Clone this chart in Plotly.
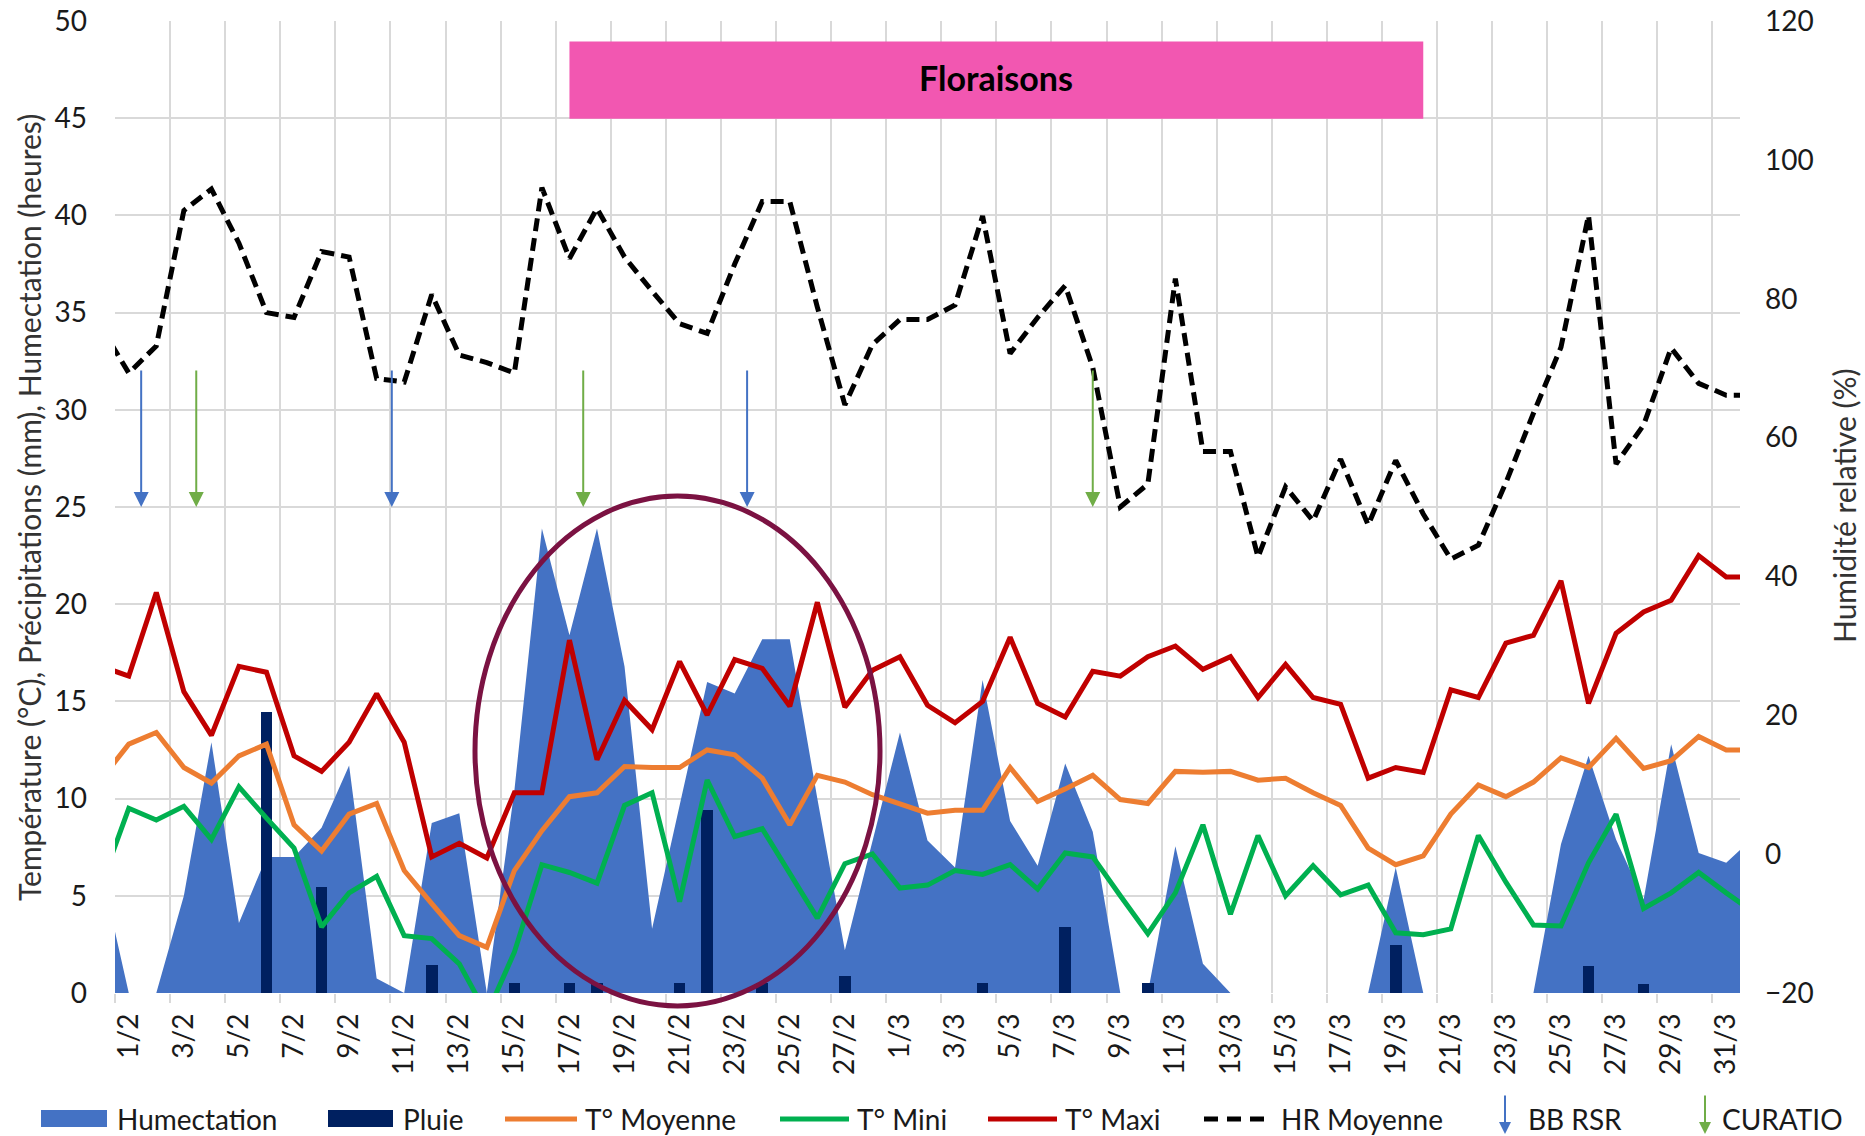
import plotly.graph_objects as go

FONT = "Lato, 'Open Sans', sans-serif"
TEXT = "#1a1a1a"
GRID = "#d9d9d9"

BLUE = "#4472C4"
NAVY = "#002060"
ORANGE = "#ED7D31"
GREEN = "#00B050"
RED = "#C00000"
PINK = "#F257B1"
MAROON = "#7B1242"
ARROW_BLUE = "#4472C4"
ARROW_GREEN = "#70AD47"

# --- data: day index 0 = 31/1 (only its edge is visible), 1 = 1/2 ... 59 = 31/3, 60 = 1/4 ---
DAYS = list(range(61))

TICK_DAYS = [1, 3, 5, 7, 9, 11, 13, 15, 17, 19, 21, 23, 25, 27, 29,
             31, 33, 35, 37, 39, 41, 43, 45, 47, 49, 51, 53, 55, 57, 59]
TICK_TEXT = ["1/2", "3/2", "5/2", "7/2", "9/2", "11/2", "13/2", "15/2", "17/2", "19/2",
             "21/2", "23/2", "25/2", "27/2", "1/3", "3/3", "5/3", "7/3", "9/3", "11/3",
             "13/3", "15/3", "17/3", "19/3", "21/3", "23/3", "25/3", "27/3", "29/3", "31/3"]

HUMECTATION = [6.3, 0, 0, 5.0, 12.9, 3.6, 7.0, 7.0, 8.5, 11.7,
               0.75, 0, 8.75, 9.25, 0, 10.4, 23.9, 18.4, 23.9, 16.8,
               3.3, 9.7, 16.0, 15.4, 18.2, 18.2, 10.0, 2.2, 7.8, 13.4,
               7.85, 6.45, 16.1, 8.85, 6.55, 11.8, 8.3, 0, 0, 7.55,
               1.5, 0, 0, 0, 0, 0, 0, 6.45, 0, 0,
               0, 0, 0, 7.65, 12.2, 7.9, 4.8, 12.8, 7.2, 6.7,
               8.0]

PLUIE_DAYS = [6, 8, 12, 15, 17, 18, 21, 22, 24, 27, 32, 35, 38, 47, 54, 56]
PLUIE_MM = [14.45, 5.45, 1.45, 0.5, 0.5, 0.5, 0.5, 9.4, 0.5, 0.9, 0.5, 3.4, 0.5, 2.45, 1.4, 0.45]

T_MOYENNE = [11.0, 12.8, 13.4, 11.6, 10.8, 12.2, 12.8, 8.65, 7.3, 9.2,
             9.75, 6.3, 4.6, 2.95, 2.35, 6.3, 8.35, 10.1, 10.3, 11.65,
             11.6, 11.6, 12.5, 12.25, 11.05, 8.65, 11.2, 10.85, 10.2, 9.7,
             9.25, 9.4, 9.4, 11.6, 9.85, 10.5, 11.2, 9.95, 9.75, 11.4,
             11.35, 11.4, 10.95, 11.05, 10.3, 9.65, 7.45, 6.6, 7.05, 9.2,
             10.7, 10.1, 10.85, 12.1, 11.6, 13.1, 11.55, 11.95, 13.2, 12.5,
             12.5]

T_MINI = [5.6, 9.5, 8.9, 9.6, 7.9, 10.6, 9.0, 7.45, 3.4, 5.15,
          6.0, 2.95, 2.8, 1.5, -1.1, 2.1, 6.6, 6.2, 5.65, 9.65,
          10.3, 4.7, 10.95, 8.05, 8.45, 6.2, 3.85, 6.65, 7.15, 5.4,
          5.55, 6.3, 6.1, 6.6, 5.35, 7.2, 7.0, 5.0, 3.05, 5.15,
          8.65, 4.05, 8.1, 5.0, 6.55, 5.05, 5.55, 3.1, 3.0, 3.3,
          8.1, 5.7, 3.5, 3.45, 6.7, 9.2, 4.35, 5.15, 6.2, 5.15,
          4.15]

T_MAXI = [16.8, 16.3, 20.6, 15.5, 13.25, 16.8, 16.5, 12.2, 11.4, 12.9,
          15.4, 12.9, 7.0, 7.7, 6.95, 10.3, 10.3, 18.15, 12.0, 15.05,
          13.55, 17.05, 14.3, 17.15, 16.7, 14.75, 20.1, 14.7, 16.6, 17.3,
          14.8, 13.9, 15.0, 18.3, 14.9, 14.2, 16.55, 16.3, 17.3, 17.85,
          16.65, 17.3, 15.2, 16.9, 15.2, 14.85, 11.05, 11.6, 11.35, 15.6,
          15.2, 18.0, 18.4, 21.2, 14.9, 18.5, 19.6, 20.2, 22.5, 21.4,
          21.4]

HR_MOYENNE = [75.9, 69.3, 73.2, 92.7, 95.8, 88.0, 78.0, 77.3, 86.8, 86.0,
              68.5, 68.0, 80.6, 71.9, 70.8, 69.3, 96.0, 85.8, 93.0, 86.0,
              81.1, 76.4, 75.0, 85.0, 94.0, 94.0, 78.8, 64.7, 73.4, 77.0,
              77.0, 79.1, 91.9, 72.1, 77.3, 81.9, 70.1, 50.0, 53.3, 82.9,
              58.0, 58.0, 42.8, 52.9, 48.0, 56.9, 47.4, 56.7, 49.0, 42.5,
              44.5, 53.5, 63.5, 73.0, 92.0, 56.2, 61.8, 72.9, 67.8, 66.1,
              66.1]

# treatments (arrows), in day units
BB_RSR_DAYS = [1.45, 10.55, 23.45]
CURATIO_DAYS = [3.45, 17.5, 36.0]
ARROW_TOP, ARROW_TIP = 32.1, 25.0

FLORAISON_START, FLORAISON_END = 17, 48

# --- plot geometry (pixels) ---
W, H = 1865, 1136
L, R, T, B = 115, 125, 21, 143
PW, PH = W - L - R, H - T - B


def px_x(fx):
    return (fx - L) / PW


def px_y(fy):
    return (H - B - fy) / PH


fig = go.Figure()
# area sits on the base axis so that rain bars and lines (on y3) draw above it
fig.add_trace(go.Scatter(
    x=DAYS, y=HUMECTATION, mode="lines", line=dict(width=0),
    fill="tozeroy", fillcolor=BLUE, name="Humectation"))
fig.add_trace(go.Bar(
    x=PLUIE_DAYS, y=PLUIE_MM, width=0.42, marker=dict(color=NAVY, line_width=0),
    name="Pluie", yaxis="y3"))
for name, vals, color in [("T° Moyenne", T_MOYENNE, ORANGE),
                          ("T° Mini", T_MINI, GREEN),
                          ("T° Maxi", T_MAXI, RED)]:
    fig.add_trace(go.Scatter(x=DAYS, y=vals, mode="lines", name=name, yaxis="y3",
                             line=dict(color=color, width=5)))
fig.add_trace(go.Scatter(
    x=DAYS, y=HR_MOYENNE, mode="lines", name="HR Moyenne", yaxis="y2",
    line=dict(color="black", width=5, dash="13px,7px")))

shapes = []
annotations = []

# Floraisons band
shapes.append(dict(type="rect", xref="x", yref="y", x0=FLORAISON_START, x1=FLORAISON_END,
                   y0=44.97, y1=48.94, fillcolor=PINK, line_width=0, layer="above"))
annotations.append(dict(x=(FLORAISON_START + FLORAISON_END) / 2, y=47.1, xref="x", yref="y",
                        text="<b>Floraisons</b>", showarrow=False,
                        font=dict(size=34, color="black", family=FONT)))

# treatment arrows
for days, color in [(BB_RSR_DAYS, ARROW_BLUE), (CURATIO_DAYS, ARROW_GREEN)]:
    for d in days:
        annotations.append(dict(x=d, y=ARROW_TIP, xref="x", yref="y",
                                ax=d, ay=ARROW_TOP, axref="x", ayref="y", text="",
                                showarrow=True, arrowhead=2, arrowsize=1.5,
                                arrowwidth=2, arrowcolor=color))

# highlight ellipse
shapes.append(dict(type="circle", xref="paper", yref="paper",
                   x0=px_x(475), x1=px_x(880), y0=px_y(1006), y1=px_y(496),
                   line=dict(color=MAROON, width=5), layer="above"))

# axis titles
annotations.append(dict(x=px_x(29), y=px_y(508), xref="paper", yref="paper",
                        xanchor="center", yanchor="middle",
                        text="Température (°C), Précipitations (mm), Humectation (heures)",
                        textangle=-90, showarrow=False,
                        font=dict(size=30, color="#333333", family=FONT)))
annotations.append(dict(x=px_x(1844), y=px_y(506), xref="paper", yref="paper",
                        xanchor="center", yanchor="middle",
                        text="Humidité relative (%)", textangle=-90, showarrow=False,
                        font=dict(size=30, color="#333333", family=FONT)))

# legend, drawn by hand
LEG_Y = 1119
LEG_FONT = dict(size=28, color=TEXT, family=FONT)
legend_items = [
    ("box", BLUE, 41, 107, 115, "Humectation"),
    ("box", NAVY, 328, 393, 401, "Pluie"),
    ("line", ORANGE, 505, 577, 583, "T° Moyenne"),
    ("line", GREEN, 780, 849, 855, "T° Mini"),
    ("line", RED, 988, 1057, 1063, "T° Maxi"),
    ("dash", "black", 1204, 1271, 1279, "HR Moyenne"),
    ("arrow", ARROW_BLUE, 1505, 1505, 1526, "BB RSR"),
    ("arrow", ARROW_GREEN, 1705, 1705, 1720, "CURATIO"),
]
for kind, color, x0, x1, tx, label in legend_items:
    if kind == "box":
        shapes.append(dict(type="rect", xref="paper", yref="paper",
                           x0=px_x(x0), x1=px_x(x1), y0=px_y(LEG_Y + 8), y1=px_y(LEG_Y - 9),
                           fillcolor=color, line_width=0))
    elif kind in ("line", "dash"):
        shapes.append(dict(type="line", xref="paper", yref="paper",
                           x0=px_x(x0), x1=px_x(x1), y0=px_y(LEG_Y), y1=px_y(LEG_Y),
                           line=dict(color=color, width=5,
                                     dash="14px,9px" if kind == "dash" else "solid")))
    else:
        annotations.append(dict(x=px_x(x0), y=px_y(1134), xref="paper", yref="paper",
                                ax=0, ay=-40, text="", showarrow=True, arrowhead=2,
                                arrowsize=1.2, arrowwidth=2, arrowcolor=color))
    annotations.append(dict(x=px_x(tx), y=px_y(LEG_Y), xref="paper", yref="paper",
                            text=label, showarrow=False, xanchor="left", yanchor="middle",
                            font=LEG_FONT))

fig.update_layout(
    width=W, height=H, autosize=False,
    margin=dict(l=L, r=R, t=T, b=B, pad=0),
    paper_bgcolor="white", plot_bgcolor="white",
    font=dict(family=FONT, color=TEXT),
    showlegend=False, bargap=0,
    xaxis=dict(range=[0.5, 59.5], tickmode="array", tickvals=TICK_DAYS, ticktext=TICK_TEXT,
               tickangle=-90, showgrid=False, zeroline=False, showline=False, ticks="",
               automargin=False, tickfont=dict(size=28, color=TEXT), ticklabelstandoff=14,
               minor=dict(tickmode="array", tickvals=[d - 0.5 for d in TICK_DAYS],
                          showgrid=True, gridcolor=GRID, gridwidth=2,
                          ticks="outside", ticklen=9, tickcolor=GRID, tickwidth=2)),
    yaxis=dict(range=[0, 50], tick0=0, dtick=5, showgrid=True, gridcolor=GRID, gridwidth=2,
               zeroline=False, showline=False, automargin=False,
               tickfont=dict(size=28, color=TEXT), ticklabelstandoff=27),
    yaxis2=dict(range=[-20, 120], tick0=-20, dtick=20, overlaying="y", side="right",
                showgrid=False, zeroline=False, showline=False, automargin=False,
                tickfont=dict(size=28, color=TEXT), ticklabelstandoff=24),
    yaxis3=dict(range=[0, 50], overlaying="y", visible=False, automargin=False),
    shapes=shapes, annotations=annotations,
)

fig.write_html("out.html", config={"displayModeBar": False},
               post_script="document.body.style.margin='0';document.body.style.overflow='hidden';")
